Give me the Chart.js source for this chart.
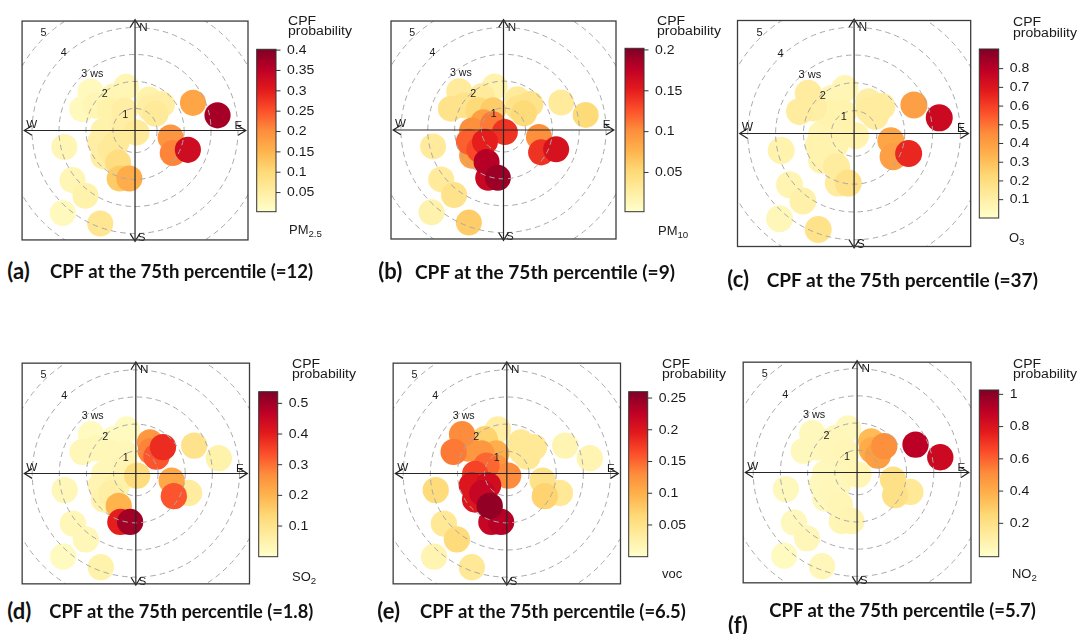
<!DOCTYPE html>
<html><head><meta charset="utf-8"><title>CPF polar plots</title>
<script src="https://cdn.jsdelivr.net/npm/chart.js@4.4.1/dist/chart.umd.min.js"></script>
<style>
html,body{margin:0;padding:0;background:#fff}
body{position:relative;width:1081px;height:634px;overflow:hidden}
canvas{position:absolute}
.t{position:absolute;white-space:nowrap;line-height:1;color:#1a1a1a;font-family:"Liberation Sans",Arial,sans-serif;font-size:12px}
.sx{transform-origin:0 0;transform:scaleX(1.17)}
.sp{transform-origin:0 0;transform:scaleX(1.08)}
.cap{font-family:Lato,"Open Sans",sans-serif;font-weight:700;color:#111}
sub{font-size:9px;vertical-align:-3px;line-height:0}
</style></head><body>
<script>
// ---------------- DATA ----------------
// smoothed CPF surface sampled as blobs: east (u) and north (v) wind components, plot units
const blobX = [-0.33,-0.81,-0.93,-0.39,-1.65,-1.96, 0.52, 1.00, 0.76, 2.15, 3.06, 0.05,-0.39,-1.17,-1.29,-0.69, 1.32, 1.40, 1.96,-1.17,-0.63,-0.21,-2.62,-2.32,-1.84,-2.68,-1.29,-0.57,-0.75,-1.45,-0.90, 0.55];
const blobY = [ 1.67, 1.30, 0.76, 0.76, 1.49, 0.82, 1.18, 1.00, 0.64, 1.06, 0.58,-0.08, 0.22,-0.02,-0.45,-0.45,-0.27,-0.86,-0.74,-0.99,-1.23,-1.84,-0.63,-1.90,-2.50,-3.16,-3.56,-1.84, 0.30, 0.95,-0.75, 0.85];
// CPF probability at each blob
const cpfPM25 = [0.03,0.03,0.04,0.05,0.02,0.02,0.04,0.05,0.06,0.17,0.37,0.06,0.05,0.04,0.05,0.06,0.19,0.21,0.33,0.05,0.09,0.16,0.03,0.03,0.04,0.02,0.07,0.12,0.04,0.03,0.06,0.05];
const cpfPM10 = [0.02,0.03,0.05,0.06,0.03,0.04,0.03,0.04,0.05,0.03,0.05,0.14,0.11,0.10,0.12,0.15,0.10,0.14,0.16,0.09,0.18,0.19,0.03,0.03,0.04,0.02,0.06,0.17,0.09,0.04,0.13,0.04];
const cpfO3   = [0.06,0.06,0.08,0.08,0.12,0.12,0.10,0.12,0.12,0.40,0.75,0.08,0.06,0.06,0.08,0.08,0.38,0.40,0.65,0.08,0.12,0.18,0.08,0.07,0.09,0.05,0.17,0.12,0.07,0.10,0.08,0.12];
const cpfSO2  = [0.02,0.02,0.03,0.03,0.02,0.03,0.25,0.38,0.33,0.10,0.05,0.12,0.04,0.03,0.04,0.05,0.22,0.33,0.07,0.05,0.20,0.50,0.03,0.03,0.03,0.02,0.05,0.40,0.03,0.03,0.06,0.28];
const cpfVOC  = [0.03,0.07,0.12,0.10,0.13,0.14,0.04,0.04,0.04,0.02,0.02,0.13,0.12,0.17,0.20,0.21,0.05,0.07,0.04,0.20,0.25,0.23,0.06,0.04,0.06,0.02,0.04,0.22,0.15,0.12,0.22,0.04];
const cpfNO2  = [0.04,0.05,0.05,0.06,0.04,0.04,0.35,0.50,0.45,0.90,0.85,0.06,0.05,0.04,0.04,0.05,0.20,0.20,0.15,0.04,0.06,0.07,0.04,0.04,0.05,0.03,0.05,0.06,0.04,0.04,0.05,0.40];
// colour-key limits and tick labels
const rangePM25 = [0.003,0.402], ticksPM25 = [0.05,0.1,0.15,0.2,0.25,0.3,0.35,0.4];
const rangePM10 = [0.002,0.202], ticksPM10 = [0.05,0.1,0.15,0.2];
const rangeO3   = [0.002,0.905], ticksO3   = [0.1,0.2,0.3,0.4,0.5,0.6,0.7,0.8];
const rangeSO2  = [0.0,0.538],   ticksSO2  = [0.1,0.2,0.3,0.4,0.5];
const rangeVOC  = [0.0,0.260],   ticksVOC  = [0.05,0.1,0.15,0.2,0.25];
const rangeNO2  = [-0.007,1.027],ticksNO2  = [0.2,0.4,0.6,0.8,1];
// wind-speed rings
const ringValues = [1,2,3,4,5];
const ringLabels = ['1','2','3 ws','4','5'];
const wsOrigin = 0.18;
const compass = ['N','E','S','W'];
const panelTags = ['(a)','(b)','(c)','(d)','(e)','(f)'];
const percentile75 = ['12','9','37','1.8','6.5','5.7'];
const pollutants = ['PM<sub>2.5</sub>','PM<sub>10</sub>','O<sub>3</sub>','SO<sub>2</sub>','voc','NO<sub>2</sub>'];

// ---------------- LAYOUT ----------------
const axisLimit = 4.19;
const blobRadius = 0.47;
const layout = [
 {box:[15,14,233],   cb:[256.7,49.3,19.3,162.4], cpf:[288.3,25,35],    pol:[289.3,233.5], tag:[7.3,279.3], txt:[50,278.3,263]},
 {box:[384,14,232],  cb:[625,48.3,19,163.4],     cpf:[656.7,25,35],    pol:[658.3,235],   tag:[378.3,279.3], txt:[415,279,260]},
 {box:[730,13.3,240.7], cb:[979.3,49.3,19.4,169], cpf:[1012.7,26,36.5], pol:[1009.3,241.7], tag:[727.3,286.7], txt:[766.7,286.7,271.3]},
 {box:[15,356,234.5],cb:[258.7,391.7,19,165],    cpf:[291.7,368.3,378.3], pol:[292,580.7], tag:[7.3,619.3], txt:[49.3,618,264]},
 {box:[386,356,234.5],cb:[628.7,391.7,19,165],   cpf:[662.3,368.3,378.3], pol:[661.7,578.3], tag:[377.3,619.3], txt:[420,618,266]},
 {box:[736,355,235], cb:[979.3,390,19.4,166.7],  cpf:[1013.3,368.3,378.3], pol:[1012.3,578.3], tag:[728,632.7], txt:[769.3,616.7,266.7]}
];
const series = [
 {v:cpfPM25, r:rangePM25, t:ticksPM25},
 {v:cpfPM10, r:rangePM10, t:ticksPM10},
 {v:cpfO3,   r:rangeO3,   t:ticksO3},
 {v:cpfSO2,  r:rangeSO2,  t:ticksSO2},
 {v:cpfVOC,  r:rangeVOC,  t:ticksVOC},
 {v:cpfNO2,  r:rangeNO2,  t:ticksNO2}
];

const ylOrRd = ['#ffffcc','#ffeda0','#fed976','#feb24c','#fd8d3c','#fc4e2a','#e31a1c','#bd0026','#800026'];
function hx(h){return [parseInt(h.slice(1,3),16),parseInt(h.slice(3,5),16),parseInt(h.slice(5,7),16)];}
function cmap(t){
  t=Math.max(0,Math.min(1,t)); const n=ylOrRd.length-1; const p=t*n;
  const i=Math.min(n-1,Math.floor(p)); const f=p-i; const a=hx(ylOrRd[i]), b=hx(ylOrRd[i+1]);
  return 'rgb('+a.map((c,k)=>Math.round(c+(b[k]-c)*f)).join(',')+')';
}

const polarDecor = {
  id:'polarDecor',
  afterDatasetsDraw(chart, args, o){
    const {ctx, chartArea:ca, scales:{x,y}} = chart;
    const cx=x.getPixelForValue(0), cy=y.getPixelForValue(0);
    const u=x.getPixelForValue(1)-cx;
    const W=ca.right-ca.left, H=ca.bottom-ca.top, s=W/233, half=W/2;
    ctx.save();
    ctx.beginPath(); ctx.rect(ca.left,ca.top,W,H); ctx.clip();
    ctx.strokeStyle='#a9a9a9'; ctx.lineWidth=1; ctx.setLineDash([5.5,4]);
    ringValues.forEach(k=>{ctx.beginPath(); ctx.arc(cx,cy,(k-wsOrigin)*u,0,Math.PI*2); ctx.stroke();});
    ctx.restore();
    // axes with arrows
    ctx.save();
    ctx.strokeStyle='#262626'; ctx.lineWidth=1.2; ctx.setLineDash([]);
    const ext=half-2.2*s, al=8*s, aw=5*s;
    ctx.beginPath();
    ctx.moveTo(cx-ext,cy); ctx.lineTo(cx+ext,cy);
    ctx.moveTo(cx,cy-ext); ctx.lineTo(cx,cy+ext);
    ctx.moveTo(cx-ext+al,cy-aw); ctx.lineTo(cx-ext,cy); ctx.lineTo(cx-ext+al,cy+aw);
    ctx.moveTo(cx+ext-al,cy-aw); ctx.lineTo(cx+ext,cy); ctx.lineTo(cx+ext-al,cy+aw);
    ctx.moveTo(cx-aw,cy-ext+al); ctx.lineTo(cx,cy-ext); ctx.lineTo(cx+aw,cy-ext+al);
    ctx.moveTo(cx-aw,cy+ext-al); ctx.lineTo(cx,cy+ext); ctx.lineTo(cx+aw,cy+ext-al);
    ctx.stroke();
    // compass labels
    ctx.fillStyle='#1a1a1a'; ctx.textAlign='left'; ctx.textBaseline='alphabetic';
    ctx.font=(12*s).toFixed(1)+'px "Liberation Sans", Arial, sans-serif';
    const cp={N:[4.4,-102.7],E:[102.7,-1.7],S:[2.7,114],W:[-112.3,-2.7]};
    compass.forEach(c=>ctx.fillText(c,cx+cp[c][0]*s,cy+cp[c][1]*s));
    // ring labels on the NW diagonal
    ctx.font=(11*s).toFixed(1)+'px "Liberation Sans", Arial, sans-serif';
    ringValues.forEach((k,i)=>{
      const r=(k-wsOrigin)*u+(k-3)*2*s; const d=r/Math.SQRT2;
      ctx.fillText(ringLabels[i],cx-d,cy-d);
    });
    // frame
    ctx.strokeStyle='#3c3c3c'; ctx.lineWidth=1.3;
    ctx.strokeRect(ca.left,ca.top,W,H);
    ctx.restore();
  },
  afterDraw(chart, args, o){
    const ctx=chart.ctx;
    const [l,t,w,h]=o.cb; const L=l-o.ox, T=t-o.oy, B=T+h, R=L+w;
    const [vmin,vmax]=o.range;
    ctx.save();
    const g=ctx.createLinearGradient(0,B,0,T);
    for(let i=0;i<=40;i++){g.addColorStop(i/40,cmap(i/40));}
    ctx.fillStyle=g; ctx.fillRect(L,T,w,h);
    ctx.strokeStyle='#333'; ctx.lineWidth=1; ctx.strokeRect(L,T,w,h);
    ctx.fillStyle='#1a1a1a'; ctx.textAlign='left'; ctx.textBaseline='middle';
    ctx.font='12px "Liberation Sans", Arial, sans-serif';
    o.ticks.forEach(v=>{
      const yy=B-(v-vmin)/(vmax-vmin)*h;
      ctx.beginPath(); ctx.moveTo(R,yy); ctx.lineTo(R+4.5,yy); ctx.stroke();
      ctx.save(); ctx.translate(R+11,yy); ctx.scale(1.17,1); ctx.fillText(String(v),0,0.5); ctx.restore();
    });
    ctx.restore();
  }
};

function addText(html, cls, x, base, fontSize, targetW){
  const d=document.createElement('div');
  d.className='t '+cls;
  d.innerHTML='<span class="c">'+html+'</span><span style="display:inline-block;width:0;height:0;vertical-align:baseline"></span>';
  d.style.left=x+'px'; d.style.top='0px';
  if(fontSize) d.style.fontSize=fontSize+'px';
  document.body.appendChild(d);
  if(targetW){
    const w=d.firstChild.getBoundingClientRect().width;
    d.style.fontSize=(fontSize*targetW/w).toFixed(2)+'px';
  }
  const b=d.lastChild.offsetTop;
  d.style.top=(base-b)+'px';
  return d;
}

layout.forEach((lay,i)=>{
  const ser=series[i];
  const [bl,bt,bs]=lay.box;
  const ox=bl-6, oy=bt-6;
  const cw=Math.min(lay.cb[0]+72,1081)-ox, chh=Math.round(bs+12);
  const cv=document.createElement('canvas');
  cv.width=Math.round(cw); cv.height=chh;
  cv.style.left=ox+'px'; cv.style.top=oy+'px';
  cv.style.width=Math.round(cw)+'px'; cv.style.height=chh+'px';
  document.body.appendChild(cv);
  const order=ser.v.map((v,k)=>k).sort((a,b)=>ser.v[a]-ser.v[b]);
  const pts=order.map(k=>({x:blobX[k],y:blobY[k]}));
  const cols=order.map(k=>cmap((ser.v[k]-ser.r[0])/(ser.r[1]-ser.r[0])));
  const unit=bs/(2*axisLimit);
  new Chart(cv.getContext('2d'),{
    type:'scatter',
    data:{datasets:[{data:pts,backgroundColor:cols,borderWidth:0,pointRadius:blobRadius*unit,pointHoverRadius:blobRadius*unit,pointBorderWidth:0}]},
    options:{
      responsive:false, animation:false, events:[], devicePixelRatio:1,
      layout:{padding:{left:6,top:6,right:Math.round(cw)-6-bs,bottom:chh-6-bs}},
      scales:{
        x:{type:'linear',min:-axisLimit,max:axisLimit,display:false},
        y:{type:'linear',min:-axisLimit,max:axisLimit,display:false}
      },
      plugins:{legend:{display:false},tooltip:{enabled:false},
        polarDecor:{cb:lay.cb,ox:ox,oy:oy,range:ser.r,ticks:ser.t}}
    },
    plugins:[polarDecor]
  });
  addText('CPF','sx',lay.cpf[0],lay.cpf[1]);
  addText('probability','sx',lay.cpf[0],lay.cpf[2]);
  addText(pollutants[i],'sp',lay.pol[0],lay.pol[1]);
  addText(panelTags[i],'cap',lay.tag[0],lay.tag[1],22);
  addText('CPF at the 75th percentile (='+percentile75[i]+')','cap',lay.txt[0],lay.txt[1],15,lay.txt[2]);
});
</script>
</body></html>
